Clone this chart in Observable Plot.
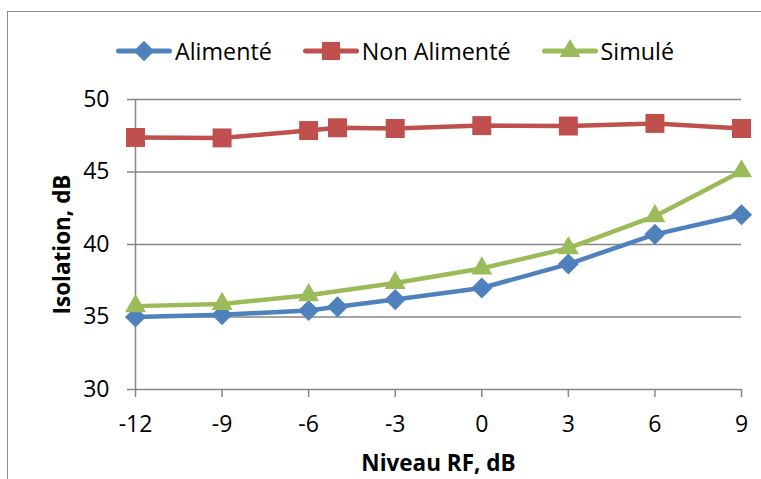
<!DOCTYPE html>
<html>
<head>
<meta charset="utf-8">
<script src="https://cdn.jsdelivr.net/npm/d3@7"></script>
<script src="https://cdn.jsdelivr.net/npm/@observablehq/plot@0.6"></script>
<style>
  body { margin: 0; background: #fff; font-family: "Open Sans", sans-serif; }
  #wrap { position: relative; width: 761px; height: 479px; overflow: hidden; }
  #frame { position: absolute; left: 7px; top: 11px; width: 800px; height: 500px; border: 1.5px solid #8c8c8c; box-sizing: border-box; }
  #chart { position: absolute; left: 0; top: 0; }
  #legend { position: absolute; left: 116px; top: 36px; display: flex; align-items: center; font-size: 23.3px; color: #000; line-height: 30px; white-space: nowrap; }
  .item { display: flex; align-items: center; }
</style>
</head>
<body>
<div id="wrap">
  <div id="frame"></div>
  <div id="chart"></div>
  <div id="legend"></div>
</div>
<script>
const niveau = [-12, -9, -6, -5, -3, 0, 3, 6, 9];
const alimente = [35.0, 35.15, 35.45, 35.7, 36.2, 37.0, 38.65, 40.7, 42.05];
const nonAlimente = [47.38, 47.35, 47.86, 48.05, 48.0, 48.2, 48.17, 48.35, 48.0];
const niveauSimule = [-12, -9, -6, -3, 0, 3, 6, 9];
const simule = [35.75, 35.9, 36.5, 37.35, 38.35, 39.75, 41.95, 45.05];
const xTicks = [-12, -9, -6, -3, 0, 3, 6, 9];
const yTicks = [30, 35, 40, 45, 50];
const seriesNames = ["Alimenté", "Non Alimenté", "Simulé"];
const colors = ["#4F81BD", "#C0504D", "#9BBB59"];
const symbols = ["diamond2", "square", "triangle"];

const dA = niveau.map((x, i) => ({x, y: alimente[i]}));
const dN = niveau.map((x, i) => ({x, y: nonAlimente[i]}));
const dS = niveauSimule.map((x, i) => ({x, y: simule[i]}));

const grid = "#868686";
const fmt = d => String(d);
const chart = Plot.plot({
  width: 761,
  height: 479,
  marginLeft: 135,
  marginRight: 20,
  marginTop: 99,
  marginBottom: 90,
  style: {fontFamily: "Open Sans", color: "#000", background: "transparent", overflow: "visible"},
  x: {domain: [-12, 9]},
  y: {domain: [30, 50]},
  marks: [
    Plot.ruleY(yTicks.slice(1), {stroke: grid, strokeWidth: 1.5}),
    Plot.ruleY([30], {stroke: grid, strokeWidth: 1.5}),
    Plot.ruleX([-12], {stroke: grid, strokeWidth: 1.5}),
    Plot.axisY({ticks: yTicks, tickFormat: fmt, tickSize: 8, tickPadding: 18, stroke: grid, strokeWidth: 1.5, label: null, fill: "#000", fontSize: 23}),
    Plot.axisX({ticks: xTicks, tickFormat: fmt, tickSize: 8, tickPadding: 18, stroke: grid, strokeWidth: 1.5, label: null, fill: "#000", fontSize: 23}),
    Plot.text(["Isolation, dB"], {frameAnchor: "left", dx: -73, rotate: -90, textAnchor: "middle", lineAnchor: "middle", fontWeight: "bold", fontSize: 22.5}),
    Plot.text(["Niveau RF, dB"], {frameAnchor: "bottom", dy: 74, lineAnchor: "middle", fontWeight: "bold", fontSize: 22.5}),
    Plot.line(dA, {x: "x", y: "y", stroke: colors[0], strokeWidth: 4.5}),
    Plot.line(dN, {x: "x", y: "y", stroke: colors[1], strokeWidth: 4.5}),
    Plot.line(dS, {x: "x", y: "y", stroke: colors[2], strokeWidth: 4.5}),
    Plot.dot(dA, {x: "x", y: "y", symbol: "diamond2", fill: colors[0], r: 9.5}),
    Plot.dot(dN, {x: "x", y: "y", symbol: "square", fill: colors[1], r: 10.7}),
    Plot.dot(dS, {x: "x", y: "y", symbol: "triangle", fill: colors[2], r: 7.8})
  ]
});
document.getElementById("chart").appendChild(chart);

// legend
const legend = d3.select("#legend");
const symMap = {diamond2: d3.symbolDiamond2, square: d3.symbolSquare, triangle: d3.symbolTriangle};
const sizes = {diamond2: Math.PI * 85, square: Math.PI * 105, triangle: Math.PI * 60};
seriesNames.forEach((name, i) => {
  const item = legend.append("div").attr("class", "item");
  const svg = item.append("svg").attr("width", 56).attr("height", 26);
  svg.append("line").attr("x1", 2.5).attr("x2", 53.5).attr("y1", 13).attr("y2", 13)
    .attr("stroke", colors[i]).attr("stroke-width", 5).attr("stroke-linecap", "round");
  svg.append("path").attr("transform", "translate(28,13)")
    .attr("d", d3.symbol(symMap[symbols[i]], sizes[symbols[i]])()).attr("fill", colors[i]);
  item.append("span").text(name).style("margin-left", "3px").style("margin-right", i < 2 ? "31px" : "0");
});
</script>
</body>
</html>
